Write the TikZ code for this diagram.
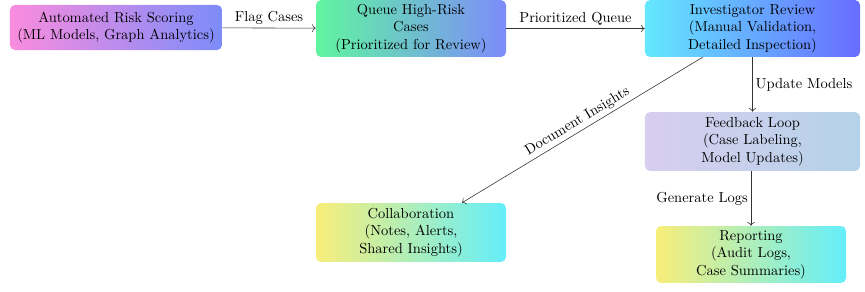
\documentclass[tikz,border=0pt]{standalone}
\usepackage{mathpazo}
\usetikzlibrary{arrows.meta}
\definecolor{pinkL}{RGB}{250,140,222}
\definecolor{blueR}{RGB}{125,140,250}
\definecolor{greenL}{RGB}{96,245,160}
\definecolor{cyanL}{RGB}{100,232,255}
\definecolor{violetR}{RGB}{104,108,255}
\definecolor{lavL}{RGB}{216,206,238}
\definecolor{lblueR}{RGB}{180,210,234}
\definecolor{yelL}{RGB}{248,238,122}
\definecolor{cyanR}{RGB}{100,238,250}
\tikzset{
  box/.style={rounded corners=3.5pt, align=center, inner sep=2pt, font=\normalsize},
  conn/.style={draw=black!80, ->, >=To},
  lbl/.style={font=\normalsize, inner sep=2pt}
}
\begin{document}
\begin{tikzpicture}[x=0.69pt,y=-0.69pt]
\useasboundingbox (0,0) rectangle (865,291);
\node[box, left color=pinkL, right color=blueR, minimum width=146.3pt, minimum height=31.1pt] (ars) at (116,27.5) {Automated Risk Scoring\\(ML Models, Graph Analytics)};
\node[box, left color=greenL, right color=blueR, minimum width=131.1pt, minimum height=39.3pt] (queue) at (411,28.5) {Queue High-Risk\\Cases\\(Prioritized for Review)};
\node[box, left color=cyanL, right color=violetR, minimum width=148.4pt, minimum height=39.3pt] (inv) at (752.5,28.5) {Investigator Review\\(Manual Validation,\\Detailed Inspection)};
\node[box, left color=lavL, right color=lblueR, minimum width=148.4pt, minimum height=40.7pt] (fb) at (752.5,141.5) {Feedback Loop\\(Case Labeling,\\Model Updates)};
\node[box, left color=yelL, right color=cyanR, minimum width=131.1pt, minimum height=40.7pt] (col) at (411,232.5) {Collaboration\\(Notes, Alerts,\\Shared Insights)};
\node[box, left color=yelL, right color=cyanR, minimum width=131.1pt, minimum height=39.3pt] (rep) at (751,254.5) {Reporting\\(Audit Logs,\\Case Summaries)};
\draw[conn] (ars) -- node[lbl, above] {Flag Cases} (queue);
\draw[conn] (queue) -- node[lbl, above] {Prioritized Queue} (inv);
\draw[conn] (inv) -- node[lbl, right] {Update Models} (fb);
\draw[conn] (fb.south -| rep.north) -- node[lbl, left] {Generate Logs} (rep);
\coordinate (ds) at (703,57);
\draw[conn] (ds) -- node[lbl, above, sloped, pos=0.5] {Document Insights} (col.north east -| 462,0);
\end{tikzpicture}
\end{document}
